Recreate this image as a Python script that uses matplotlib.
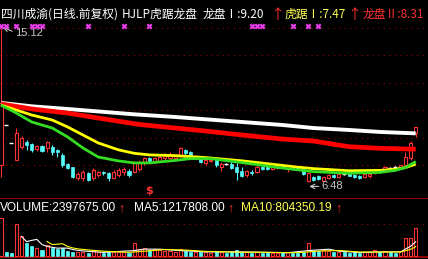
import numpy as np
import matplotlib
matplotlib.use('Agg')
import matplotlib.pyplot as plt

# 四川成渝 daily candles (前复权)
opens = [7.42, 9.67, 8.66, 7.70, 8.43, 8.72, 8.60, 8.32, 8.49, 8.38,
         8.43, 8.27, 7.99, 7.48, 7.31, 6.69, 6.69, 6.97, 6.69, 6.86,
         7.03, 6.97, 6.69, 6.86, 7.03, 7.09, 7.03, 7.20, 7.59, 7.82,
         7.65, 7.65, 7.82, 7.82, 7.82, 7.99, 8.27, 8.15, 7.82, 7.82,
         7.54, 7.65, 7.70, 7.31, 7.48, 7.48, 7.31, 7.09, 6.86, 7.03,
         7.03, 7.31, 7.31, 7.20, 7.25, 7.42, 7.20, 7.31, 7.31, 7.25,
         6.55, 6.75, 6.81, 6.52, 6.69, 6.86, 6.75, 6.92, 6.92, 6.86,
         6.81, 6.75, 6.81, 6.97, 7.12, 7.14, 7.25, 7.31, 7.31, 7.42,
         7.82, 9.22]
highs = [15.12, 9.67, 8.66, 9.50, 9.05, 8.83, 8.66, 8.55, 8.52, 8.77,
         8.55, 8.30, 8.10, 7.54, 7.33, 7.03, 7.14, 7.03, 7.25, 7.09,
         7.09, 7.03, 7.14, 7.25, 7.31, 7.20, 7.65, 7.70, 7.87, 7.87,
         7.90, 7.99, 8.10, 8.15, 8.00, 8.43, 8.32, 8.21, 7.99, 7.87,
         7.82, 7.76, 7.76, 7.59, 7.54, 7.59, 7.54, 7.31, 7.14, 7.14,
         7.42, 7.37, 7.37, 7.37, 7.40, 7.45, 7.31, 7.35, 7.37, 7.31,
         7.03, 6.80, 6.86, 6.80, 6.92, 6.90, 6.97, 6.97, 6.95, 6.90,
         6.84, 6.95, 6.95, 7.09, 7.14, 7.35, 7.31, 7.37, 7.45, 8.15,
         8.77, 9.53]
lows = [6.75, 9.67, 8.66, 7.70, 8.32, 8.27, 8.15, 8.21, 8.14, 8.15,
        7.99, 7.87, 7.31, 7.20, 6.69, 6.58, 6.55, 6.52, 6.58, 6.75,
        6.86, 6.52, 6.64, 6.75, 6.86, 6.75, 6.97, 7.09, 7.42, 7.59,
        7.55, 7.59, 7.70, 7.70, 7.76, 7.87, 7.87, 7.87, 7.76, 7.54,
        7.42, 7.59, 7.31, 7.09, 7.42, 7.20, 6.58, 6.75, 6.75, 6.86,
        6.97, 7.14, 7.14, 7.14, 7.20, 7.25, 7.03, 7.20, 7.14, 6.86,
        6.48, 6.55, 6.60, 6.50, 6.64, 6.70, 6.70, 6.86, 6.78, 6.72,
        6.66, 6.72, 6.69, 6.92, 7.00, 7.09, 7.20, 7.25, 7.28, 7.31,
        7.70, 9.00]
closes = [10.91, 9.67, 8.66, 9.22, 8.94, 8.55, 8.27, 8.49, 8.21, 8.72,
          8.15, 8.15, 7.42, 7.25, 6.75, 6.92, 7.03, 6.58, 7.14, 7.03,
          6.95, 6.69, 7.03, 7.14, 7.20, 6.86, 7.59, 7.54, 7.82, 7.65,
          7.82, 7.87, 7.93, 8.04, 7.93, 8.38, 8.10, 7.99, 7.93, 7.59,
          7.70, 7.70, 7.42, 7.48, 7.48, 7.25, 7.03, 6.81, 7.09, 6.95,
          7.31, 7.20, 7.20, 7.31, 7.37, 7.31, 7.25, 7.25, 7.20, 6.92,
          6.97, 6.58, 6.64, 6.75, 6.86, 6.75, 6.92, 6.92, 6.81, 6.75,
          6.69, 6.92, 6.92, 7.06, 7.03, 7.31, 7.25, 7.31, 7.42, 7.87,
          8.66, 9.53]
# volume, millions of shares
volumes = [3.23, 0.34, 0.26, 2.74, 1.71, 1.11, 0.88, 0.68, 0.51, 0.94,
           0.68, 0.60, 0.68, 0.43, 0.37, 0.30, 0.35, 0.28, 0.40, 0.30,
           0.26, 0.34, 0.30, 0.36, 0.30, 0.28, 1.11, 0.62, 0.65, 0.55,
           0.60, 0.50, 0.40, 0.45, 0.35, 0.60, 0.40, 0.35, 0.30, 0.38,
           0.30, 0.25, 0.40, 0.30, 0.25, 0.30, 0.50, 0.35, 0.30, 0.25,
           0.35, 0.25, 0.30, 0.25, 0.28, 0.30, 0.30, 0.25, 0.28, 0.35,
           1.11, 0.45, 0.40, 0.55, 0.40, 0.30, 0.35, 0.30, 0.28, 0.30,
           0.25, 0.30, 0.35, 0.50, 0.30, 0.45, 0.30, 0.25, 0.40, 1.54,
           1.54, 2.40]

# HJLP lines, sampled at candle index
lp1_idx = [0, 6, 13, 19, 26, 34, 40, 47, 55, 61, 68, 74, 81]
lp1_val = [10.91, 10.72, 10.57, 10.43, 10.27, 10.12, 9.99, 9.84, 9.67, 9.50, 9.39, 9.28, 9.20]
lp2_idx = [0, 6, 13, 19, 27, 34, 40, 47, 55, 61, 68, 74, 81]
lp2_val = [10.85, 10.57, 10.34, 10.06, 9.70, 9.50, 9.33, 9.11, 8.88, 8.77, 8.45, 8.36, 8.31]
hj1_idx = [0, 3, 6, 10, 13, 16, 19, 23, 26, 29, 34, 40, 47, 55, 58, 61, 68, 74, 77, 79, 81]
hj1_val = [10.79, 10.51, 10.23, 9.95, 9.56, 9.11, 8.66, 8.27, 8.08, 7.99, 7.95, 7.84, 7.66,
           7.40, 7.30, 7.22, 7.10, 7.12, 7.18, 7.28, 7.47]
hj2_idx = [0, 3, 6, 10, 13, 16, 19, 23, 26, 29, 34, 37, 41, 47, 55, 58, 61, 68, 74, 77, 79, 81]
hj2_val = [10.79, 10.34, 9.84, 9.50, 9.00, 8.38, 7.87, 7.65, 7.54, 7.54, 7.68, 7.78, 7.78, 7.56,
           7.25, 7.15, 7.05, 6.96, 7.01, 7.12, 7.28, 7.62]

# volume moving averages
vma5_idx = [4, 5, 6, 7, 8, 9, 10, 11, 12, 13, 14, 16, 20, 26, 28, 31, 35, 40, 46, 50, 56, 60,
            62, 64, 66, 70, 74, 77, 78, 79, 80, 81]
vma5_val = [1.66, 1.23, 1.34, 1.42, 0.98, 0.82, 0.74, 0.67, 0.68, 0.67, 0.55, 0.43, 0.31, 0.46,
            0.59, 0.58, 0.46, 0.35, 0.35, 0.33, 0.28, 0.46, 0.52, 0.58, 0.41, 0.30, 0.34, 0.36,
            0.34, 0.59, 0.83, 1.22]
vma10_idx = [9, 10, 11, 12, 13, 14, 15, 17, 20, 25, 28, 32, 36, 40, 46, 52, 58, 62, 66, 70, 75,
             78, 79, 80, 81]
vma10_val = [1.24, 0.98, 1.01, 1.05, 0.82, 0.69, 0.61, 0.52, 0.41, 0.31, 0.41, 0.55, 0.51, 0.39,
             0.33, 0.31, 0.28, 0.42, 0.47, 0.34, 0.34, 0.34, 0.45, 0.57, 0.80]

signal_idx = [0, 1, 3, 6, 7, 8, 17, 24, 29, 49, 50, 51, 57, 60, 62]
grid_prices = [15.12, 13.58, 12.04, 10.50, 8.96, 7.42]
vol_grid = [2.74]

RED = '#FF3232'
CYAN = '#54FCFC'
GRID = '#900000'
GRAY = '#C8C8C8'

W, H = 428, 259
fig = plt.figure(figsize=(W / 100, H / 100), dpi=100, facecolor='black')

def fx(px):
    return px / W

def fy(py):
    return 1 - py / H

ax = fig.add_axes([0, fy(198), 1, 198 / H])
vax = fig.add_axes([0, 0, 1, 61 / H])
for a in (ax, vax):
    a.set_facecolor('black')
    a.set_xlim(-0.2, 83.4)
    a.set_xticks([])
    a.set_yticks([])
    for s in a.spines.values():
        s.set_visible(False)
ax.set_ylim(5.57, 16.69)
vax.set_ylim(-0.26, 4.97)

for g in grid_prices:
    ax.axhline(g, color=GRID, lw=0.8, ls=(0, (1, 4)), zorder=0)
for g in vol_grid:
    vax.axhline(g, color=GRID, lw=0.8, ls=(0, (1, 4)), zorder=0)
vax.axhline(4.93, color='#B00000', lw=1.2)
vax.axhline(-0.13, color='#B00000', lw=1.2)

x = np.arange(len(closes))
o = np.array(opens)
h = np.array(highs)
l = np.array(lows)
c = np.array(closes)
v = np.array(volumes)
up = c > o
dn = c < o
flat = c == o

# candles
ax.vlines(x[up], l[up], h[up], color=RED, lw=0.8, zorder=2)
ax.bar(x[up], c[up] - o[up], bottom=o[up], width=0.6, facecolor='black',
       edgecolor=RED, lw=0.8, zorder=3)
ax.vlines(x[dn], l[dn], h[dn], color=CYAN, lw=0.8, zorder=2)
ax.bar(x[dn], o[dn] - c[dn], bottom=c[dn], width=0.6, color=CYAN,
       edgecolor=CYAN, lw=0.5, zorder=3)
ax.vlines(x[flat], l[flat], h[flat], color='white', lw=0.8, zorder=2)
ax.hlines(o[flat], x[flat] - 0.35, x[flat] + 0.35, color='white', lw=1.0, zorder=3)

# HJLP lines
ax.plot(lp1_idx, lp1_val, color='white', lw=2.8, solid_capstyle='butt', zorder=4)
ax.plot(lp2_idx, lp2_val, color='#FF0000', lw=3.4, solid_capstyle='butt', zorder=5)
ax.plot(hj1_idx, hj1_val, color='#FFFF00', lw=2.0, solid_capstyle='butt', zorder=6)
ax.plot(hj2_idx, hj2_val, color='#33DD22', lw=2.0, solid_capstyle='butt', zorder=7)

ax.scatter(signal_idx, [15.23] * len(signal_idx), marker='x', s=10, lw=1.6,
           color='#E83CE8', zorder=8)

ax.annotate('15.12', xy=(0.35, 15.17), xytext=(2.7, 14.81), color=GRAY, fontsize=8,
            family='Liberation Sans', ha='left', va='center',
            arrowprops=dict(arrowstyle='->', color=GRAY, lw=0.8, shrinkA=0, shrinkB=0,
                            relpos=(0, 0.6)))
ax.annotate('6.48', xy=(60.2, 6.22), xytext=(62.6, 6.22), color=GRAY, fontsize=8,
            family='Liberation Sans', ha='left', va='center',
            arrowprops=dict(arrowstyle='->', color=GRAY, lw=0.8, shrinkA=0, shrinkB=0,
                            relpos=(0, 0.5)))
ax.text(29, 5.97, r'\$', color=RED, fontsize=8, fontweight='bold', ha='center', va='center')

# volume
vax.bar(x[up], v[up], width=0.6, facecolor='black', edgecolor=RED, lw=0.8, zorder=2)
vax.bar(x[~up], v[~up], width=0.6, color=CYAN, edgecolor=CYAN, lw=0.5, zorder=2)
vax.plot(vma5_idx, vma5_val, color='white', lw=0.8, zorder=3)
vax.plot(vma10_idx, vma10_val, color='#FFFF00', lw=0.8, zorder=3)

# title row
cjk = ['Noto Sans CJK SC', 'DejaVu Sans']
ty = fy(14.5)
fs = 8.5
fig.text(fx(1), ty, '四川成渝(日线.前复权)', color='white', fontsize=fs, family=cjk, va='center')
fig.text(fx(122), ty, 'HJLP虎踞龙盘', color='white', fontsize=fs, family=cjk, va='center')
fig.text(fx(203), ty, '龙盘Ⅰ:9.20', color='white', fontsize=fs, family=cjk, va='center')
fig.text(fx(270), ty, '↑', color=RED, fontsize=10, family=cjk, va='center')
fig.text(fx(284), ty, '虎踞Ⅰ:7.47', color='#FFFF54', fontsize=fs, family=cjk, va='center')
fig.text(fx(347), ty, '↑', color=RED, fontsize=10, family=cjk, va='center')
fig.text(fx(363), ty, '龙盘Ⅱ:8.31', color=RED, fontsize=fs, family=cjk, va='center')

lat = ['Liberation Sans', 'DejaVu Sans']
vy = fy(208)
vfs = 8.6
fig.text(fx(0), vy, 'VOLUME:2397675.00', color='white', fontsize=vfs, family=lat, va='center')
fig.text(fx(118), vy, '↑', color=RED, fontsize=9, family=lat, va='center')
fig.text(fx(134), vy, 'MA5:1217808.00', color='white', fontsize=vfs, family=lat, va='center')
fig.text(fx(227), vy, '↑', color=RED, fontsize=9, family=lat, va='center')
fig.text(fx(241), vy, 'MA10:804350.19', color='#FFFF54', fontsize=vfs, family=lat, va='center')
fig.text(fx(335), vy, '↑', color=RED, fontsize=9, family=lat, va='center')

fig.savefig('out.png', dpi=100, facecolor='black')
